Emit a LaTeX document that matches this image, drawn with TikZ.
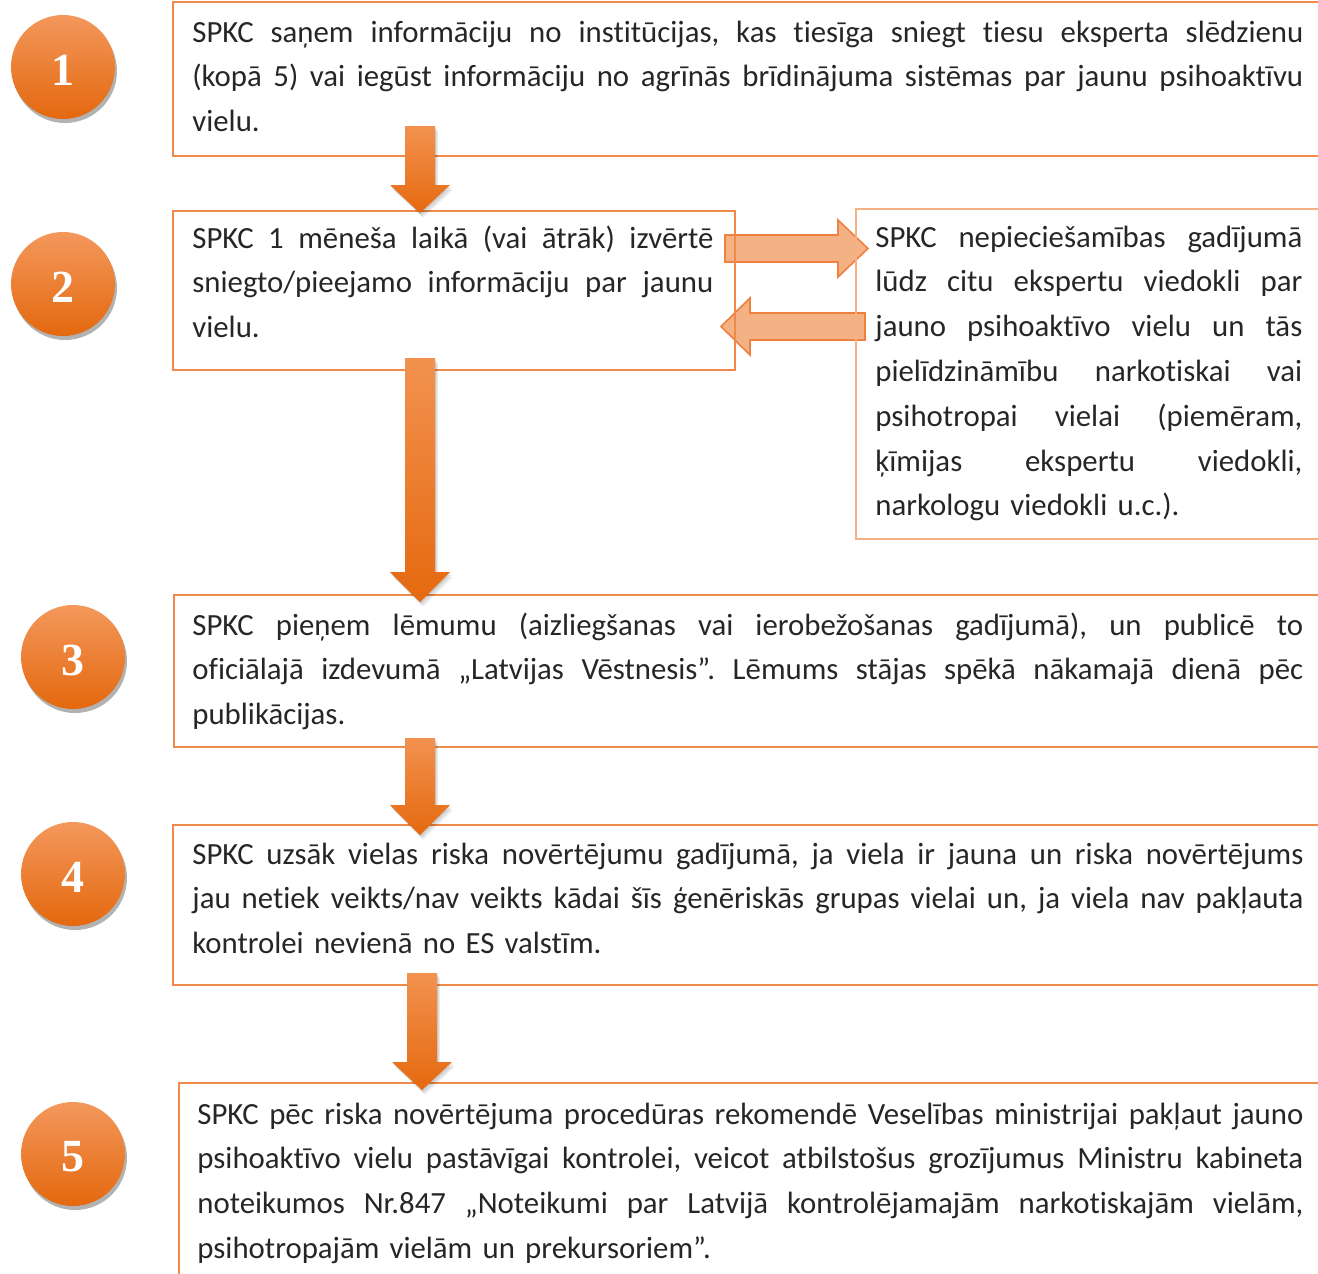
\documentclass[tikz,border=0pt]{standalone}
\usepackage{fontspec}
\setmainfont{Carlito}[Ligatures=NoCommon]
\newfontfamily\numfont{Liberation Serif}
\usetikzlibrary{shadows}
\definecolor{txtc}{HTML}{262626}
\definecolor{boxc}{HTML}{F08A4B}
\definecolor{boxl}{HTML}{F4B183}
\definecolor{arrT}{HTML}{F2924F}
\definecolor{arrB}{HTML}{E5690F}
\definecolor{circT}{HTML}{F3985C}
\definecolor{circB}{HTML}{E4680E}
\definecolor{hfill}{HTML}{F4B183}
\definecolor{hdraw}{HTML}{EE8040}
\frenchspacing
\newcommand\jl[1]{{\spaceskip=0pt\xspaceskip=0pt\makebox[\hsize][s]{#1}}}
% vertical block arrow: name, x centre, y top, y head start, y tip
\newcommand\vblock[5]{%
  \coordinate (#1s) at (#2,#3);
  \coordinate (#1e) at (#2,#5);
  \foreach \d in {1,2,3}{%
    \fill[black, opacity=0.07, shift={(\d,1.6*\d)}]
      (#2-15,#3) -- (#2+15,#3) -- (#2+15,#4) -- (#2+30,#4) -- (#2,#5) -- (#2-30,#4) -- (#2-15,#4) -- cycle;}
  \path[varrow] (#1s) ++(-15,0) -- (#2+15,#3) -- (#2+15,#4) -- (#2+30,#4) -- (#1e) -- (#2-30,#4) -- (#2-15,#4) -- cycle;
}
% horizontal block arrow: name, y centre, x tail, x head start, x tip
\newcommand\hblock[5]{%
  \coordinate (#1s) at (#3,#2);
  \coordinate (#1e) at (#5,#2);
  \path[harrow] (#3,#2-13.5) -- (#4,#2-13.5) -- (#4,#2-28.5) -- (#1e) -- (#4,#2+28.5) -- (#4,#2+13.5) -- (#3,#2+13.5) -- cycle;
}
\begin{document}
\begin{tikzpicture}[x=0.5pt,y=-0.5pt,
  box/.style={draw=boxc, line width=0.9pt, inner sep=0pt, anchor=north west},
  boxlight/.style={draw=boxl, line width=1pt, inner sep=0pt, anchor=north west},
  txt/.style={anchor=base west, inner sep=0pt, align=left, text=txtc,
    font=\fontsize{15.4pt}{22.4pt}\selectfont},
  numcirc/.style={circle, minimum size=52pt, inner sep=0pt, top color=circT, bottom color=circB,
    drop shadow={shadow xshift=1pt, shadow yshift=-2pt, opacity=0.3, fill=black}},
  numtxt/.style={text=white, font=\numfont\bfseries\fontsize{23pt}{23pt}\selectfont, inner sep=0pt},
  varrow/.style={top color=arrT, bottom color=arrB, draw=none},
  harrow/.style={fill=hfill, draw=hdraw, line width=0.8pt, line join=miter}
]
\useasboundingbox (0,0) rectangle (1318,1274);
\clip (0,0) rectangle (1318,1274);

% horizontal block arrows (behind box edges)
\hblock{h1}{248.5}{725}{838}{868}
\hblock{h2}{326.5}{865}{750}{721}

% boxes
\node[box, minimum width=579pt, minimum height=77pt] (b1) at (172,1) {};
\node[box, minimum width=281pt, minimum height=79.5pt] (b2) at (172,210) {};
\node[boxlight, minimum width=237.5pt, minimum height=165pt] (bR) at (855,208) {};
\node[box, minimum width=578.5pt, minimum height=76pt] (b3) at (173,594) {};
\node[box, minimum width=579pt, minimum height=80pt] (b4) at (172,824) {};
\node[box, minimum width=576pt, minimum height=105pt] (b5) at (178,1082) {};

% texts
\node[txt, text width=555.5pt] (t1) at (192,42) {%
\jl{SPKC saņem informāciju no institūcijas, kas tiesīga sniegt tiesu eksperta slēdzienu}\\
\jl{(kopā 5) vai iegūst informāciju no agrīnās brīdinājuma sistēmas par jaunu psihoaktīvu}\\
vielu.};
\node[txt, text width=260.5pt] (t2) at (192,248) {%
\jl{SPKC 1 mēneša laikā (vai ātrāk) izvērtē}\\
\jl{sniegto/pieejamo informāciju par jaunu}\\
vielu.};
\node[txt, text width=213.5pt] (tR) at (875,247) {%
\jl{SPKC nepieciešamības gadījumā}\\
\jl{lūdz citu ekspertu viedokli par}\\
\jl{jauno psihoaktīvo vielu un tās}\\
\jl{pielīdzināmību narkotiskai vai}\\
\jl{psihotropai vielai (piemēram,}\\
\jl{ķīmijas ekspertu viedokli,}\\
narkologu viedokli u.c.).};
\node[txt, text width=555.5pt] (t3) at (192,635) {%
\jl{SPKC pieņem lēmumu (aizliegšanas vai ierobežošanas gadījumā), un publicē to}\\
\jl{oficiālajā izdevumā „Latvijas Vēstnesis”. Lēmums stājas spēkā nākamajā dienā pēc}\\
publikācijas.};
\node[txt, text width=555.5pt] (t4) at (192,864) {%
\jl{SPKC uzsāk vielas riska novērtējumu gadījumā, ja viela ir jauna un riska novērtējums}\\
\jl{jau netiek veikts/nav veikts kādai šīs ģenēriskās grupas vielai un, ja viela nav pakļauta}\\
kontrolei nevienā no ES valstīm.};
\node[txt, text width=553pt] (t5) at (197,1124) {%
\jl{SPKC pēc riska novērtējuma procedūras rekomendē Veselības ministrijai pakļaut jauno}\\
\jl{psihoaktīvo vielu pastāvīgai kontrolei, veicot atbilstošus grozījumus Ministru kabineta}\\
\jl{noteikumos Nr.847 „Noteikumi par Latvijā kontrolējamajām narkotiskajām vielām,}\\
psihotropajām vielām un prekursoriem”.};

% vertical block arrows
\vblock{a1}{420}{126}{185}{213}
\vblock{a2}{420}{358}{572}{602}
\vblock{a3}{420}{738}{805}{835}
\vblock{a4}{422}{973}{1062}{1090}

% numbered circles
\node[numcirc] (c1) at (63,67) {};
\node[numcirc] (c2) at (63,284) {};
\node[numcirc] (c3) at (73,657) {};
\node[numcirc] (c4) at (73,874) {};
\node[numcirc] (c5) at (73,1154) {};
\node[numtxt] (n1) at ([yshift=-1.5pt]c1.center) {1};
\node[numtxt] (n2) at ([yshift=-1.5pt]c2.center) {2};
\node[numtxt] (n3) at ([yshift=-1.5pt]c3.center) {3};
\node[numtxt] (n4) at ([yshift=-1.5pt]c4.center) {4};
\node[numtxt] (n5) at ([yshift=-1.5pt]c5.center) {5};
\end{tikzpicture}
\end{document}
